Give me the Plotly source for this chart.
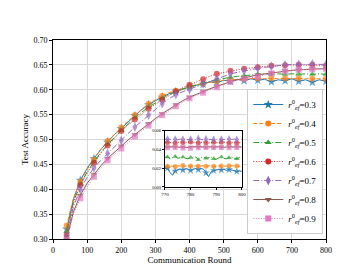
import plotly.graph_objects as go

# ---------------- data ----------------
rounds = [0, 20, 40, 60, 80, 100, 120, 140, 160, 180, 200, 220, 240, 260, 280, 300,
          320, 340, 360, 380, 400, 420, 440, 460, 480, 500, 520, 540, 560, 580, 600,
          620, 640, 660, 680, 700, 720, 740, 760, 780, 800]

acc_03 = [0.100, 0.220, 0.320, 0.380, 0.418, 0.442, 0.462, 0.480, 0.495, 0.510, 0.522,
          0.536, 0.548, 0.560, 0.570, 0.578, 0.585, 0.592, 0.596, 0.602, 0.605, 0.609,
          0.611, 0.616, 0.614, 0.619, 0.617, 0.621, 0.618, 0.622, 0.619, 0.621, 0.616,
          0.620, 0.618, 0.622, 0.617, 0.620, 0.615, 0.620, 0.617]
acc_04 = [0.110, 0.235, 0.327, 0.383, 0.415, 0.440, 0.460, 0.480, 0.497, 0.511, 0.524,
          0.537, 0.549, 0.561, 0.572, 0.580, 0.588, 0.594, 0.598, 0.603, 0.607, 0.610,
          0.612, 0.615, 0.617, 0.619, 0.620, 0.621, 0.622, 0.622, 0.623, 0.622, 0.623,
          0.622, 0.623, 0.622, 0.623, 0.622, 0.622, 0.623, 0.622]
acc_05 = [0.100, 0.220, 0.315, 0.375, 0.410, 0.435, 0.455, 0.474, 0.490, 0.505, 0.518,
          0.531, 0.543, 0.555, 0.565, 0.574, 0.582, 0.590, 0.596, 0.601, 0.606, 0.610,
          0.614, 0.617, 0.620, 0.623, 0.625, 0.627, 0.628, 0.630, 0.631, 0.632, 0.631,
          0.632, 0.631, 0.632, 0.631, 0.632, 0.631, 0.632, 0.631]
acc_06 = [0.100, 0.210, 0.308, 0.372, 0.408, 0.433, 0.453, 0.472, 0.488, 0.503, 0.517,
          0.529, 0.540, 0.551, 0.562, 0.571, 0.580, 0.589, 0.597, 0.604, 0.610, 0.616,
          0.621, 0.627, 0.632, 0.635, 0.638, 0.640, 0.642, 0.644, 0.645, 0.647, 0.648,
          0.648, 0.649, 0.650, 0.650, 0.650, 0.650, 0.649, 0.648]
acc_07 = [0.090, 0.200, 0.305, 0.365, 0.400, 0.424, 0.443, 0.458, 0.472, 0.485, 0.498,
          0.512, 0.525, 0.537, 0.549, 0.561, 0.572, 0.582, 0.590, 0.596, 0.601, 0.607,
          0.612, 0.617, 0.622, 0.627, 0.632, 0.635, 0.638, 0.641, 0.643, 0.645, 0.647,
          0.649, 0.650, 0.651, 0.651, 0.652, 0.652, 0.651, 0.651]
acc_08 = [0.080, 0.190, 0.300, 0.355, 0.388, 0.412, 0.430, 0.447, 0.462, 0.475, 0.487,
          0.499, 0.510, 0.521, 0.532, 0.542, 0.552, 0.561, 0.570, 0.578, 0.585, 0.591,
          0.597, 0.602, 0.607, 0.612, 0.616, 0.620, 0.624, 0.627, 0.630, 0.632, 0.634,
          0.636, 0.638, 0.639, 0.640, 0.641, 0.642, 0.642, 0.642]
acc_09 = [0.080, 0.185, 0.298, 0.350, 0.382, 0.405, 0.425, 0.442, 0.458, 0.470, 0.482,
          0.494, 0.506, 0.517, 0.528, 0.539, 0.549, 0.558, 0.567, 0.575, 0.583, 0.589,
          0.594, 0.600, 0.605, 0.611, 0.616, 0.619, 0.622, 0.624, 0.626, 0.630, 0.633,
          0.635, 0.637, 0.639, 0.640, 0.641, 0.641, 0.642, 0.642]

# zoomed-in window (rounds 770-800)
zoom_rounds = list(range(770, 801))
zoom_03 = [0.6195, 0.6200, 0.6150, 0.6125, 0.6170, 0.6185, 0.6190, 0.6180, 0.6195, 0.6190,
           0.6175, 0.6190, 0.6195, 0.6185, 0.6195, 0.6190, 0.6150, 0.6110, 0.6160, 0.6175,
           0.6180, 0.6185, 0.6180, 0.6190, 0.6175, 0.6185, 0.6180, 0.6170, 0.6165, 0.6170,
           0.6165]
zoom_04 = [0.6215, 0.6220, 0.6225, 0.6220, 0.6218, 0.6225, 0.6222, 0.6228, 0.6220, 0.6225,
           0.6222, 0.6218, 0.6225, 0.6220, 0.6223, 0.6226, 0.6220, 0.6224, 0.6228, 0.6221,
           0.6218, 0.6224, 0.6222, 0.6226, 0.6220, 0.6225, 0.6221, 0.6224, 0.6222, 0.6223,
           0.6222]
zoom_05 = [0.6315, 0.6320, 0.6300, 0.6310, 0.6325, 0.6305, 0.6315, 0.6320, 0.6305, 0.6300,
           0.6315, 0.6310, 0.6320, 0.6290, 0.6315, 0.6320, 0.6305, 0.6310, 0.6318, 0.6300,
           0.6295, 0.6310, 0.6320, 0.6305, 0.6300, 0.6312, 0.6318, 0.6305, 0.6300, 0.6312,
           0.6315]
zoom_06 = [0.6480, 0.6475, 0.6478, 0.6472, 0.6470, 0.6476, 0.6480, 0.6474, 0.6470, 0.6477,
           0.6479, 0.6473, 0.6475, 0.6470, 0.6476, 0.6480, 0.6472, 0.6468, 0.6475, 0.6478,
           0.6473, 0.6470, 0.6476, 0.6479, 0.6472, 0.6468, 0.6475, 0.6478, 0.6470, 0.6473,
           0.6476]
zoom_07 = [0.6508, 0.6510, 0.6505, 0.6512, 0.6508, 0.6503, 0.6510, 0.6507, 0.6512, 0.6505,
           0.6508, 0.6510, 0.6506, 0.6514, 0.6508, 0.6504, 0.6510, 0.6507, 0.6511, 0.6505,
           0.6508, 0.6512, 0.6506, 0.6509, 0.6504, 0.6510, 0.6507, 0.6511, 0.6505, 0.6509,
           0.6508]
zoom_08 = [0.6425, 0.6428, 0.6424, 0.6427, 0.6430, 0.6425, 0.6423, 0.6428, 0.6426, 0.6422,
           0.6427, 0.6429, 0.6424, 0.6426, 0.6430, 0.6425, 0.6423, 0.6427, 0.6428, 0.6424,
           0.6426, 0.6429, 0.6425, 0.6423, 0.6427, 0.6428, 0.6424, 0.6426, 0.6429, 0.6425,
           0.6427]
zoom_09 = [0.6420, 0.6418, 0.6422, 0.6415, 0.6420, 0.6424, 0.6418, 0.6416, 0.6421, 0.6419,
           0.6414, 0.6420, 0.6423, 0.6418, 0.6421, 0.6417, 0.6422, 0.6419, 0.6415, 0.6421,
           0.6423, 0.6418, 0.6420, 0.6416, 0.6421, 0.6419, 0.6422, 0.6417, 0.6420, 0.6418,
           0.6421]

ratios = ["0.3", "0.4", "0.5", "0.6", "0.7", "0.8", "0.9"]
x_ticks = [0, 100, 200, 300, 400, 500, 600, 700, 800]
y_ticks = [0.30, 0.35, 0.40, 0.45, 0.50, 0.55, 0.60, 0.65, 0.70]
inset_x_ticks = [770, 780, 790, 800]
inset_y_ticks = [0.60, 0.62, 0.64, 0.66]

# ---------------- style ----------------
main_series = [acc_03, acc_04, acc_05, acc_06, acc_07, acc_08, acc_09]
zoom_series = [zoom_03, zoom_04, zoom_05, zoom_06, zoom_07, zoom_08, zoom_09]
colors = ["#1f77b4", "#ff7f0e", "#2ca02c", "#d62728", "#9467bd", "#8c564b", "#e377c2"]
symbols = ["star", "circle", "triangle-up", "circle", "diamond-tall", "triangle-down", "square"]
dashes = ["solid", "4px,2px", "6px,2px,1px,2px", "1px,1.6px",
          "6px,2px,1px,2px", "solid", "1px,1.6px"]
msizes = [7, 6, 6, 6, 7, 6, 6]
zsizes = [6, 5, 5, 5, 6, 5, 5]

FONT = "Liberation Serif"
BLACK = "#000000"

fig = go.Figure()

for s, c, sym, d, ms in zip(main_series, colors, symbols, dashes, msizes):
    sizes = [ms if (r % 40 == 0) else 0 for r in rounds]
    fig.add_trace(go.Scatter(
        x=rounds, y=s, mode="lines+markers",
        line=dict(color=c, width=1, dash=d),
        marker=dict(symbol=sym, size=sizes, color=c, line=dict(width=0)),
        showlegend=False, xaxis="x", yaxis="y"))

for s, c, sym, d, ms in zip(zoom_series, colors, symbols, dashes, zsizes):
    sizes = [ms if ((r - 771) % 3 == 0) else 0 for r in zoom_rounds]
    fig.add_trace(go.Scatter(
        x=zoom_rounds, y=s, mode="lines+markers",
        line=dict(color=c, width=1, dash=d),
        marker=dict(symbol=sym, size=sizes, color=c, line=dict(width=0)),
        showlegend=False, xaxis="x2", yaxis="y2"))

# legend entries
for lab, c, sym, d, ms in zip(ratios, colors, symbols, dashes, msizes):
    fig.add_trace(go.Scatter(
        x=[None], y=[None], mode="lines+markers",
        name="<i>r</i><sup>0</sup><sub><i>ef</i></sub>=" + lab,
        line=dict(color=c, width=1, dash=d),
        marker=dict(symbol=sym, size=ms, color=c, line=dict(width=0)),
        xaxis="x", yaxis="y"))

axis_common = dict(showline=True, linecolor=BLACK, linewidth=1, mirror=True,
                   ticks="outside", tickcolor=BLACK, zeroline=False)

fig.update_layout(
    width=355, height=267,
    margin=dict(l=45, r=37, t=32, b=29),
    paper_bgcolor="white", plot_bgcolor="white",
    font=dict(family=FONT, size=8, color=BLACK),
    xaxis=dict(range=[0, 800], tickvals=x_ticks, ticktext=[str(v) for v in x_ticks],
               showgrid=True, gridcolor="#d8d8d8", gridwidth=1, ticklen=3,
               tickfont=dict(family=FONT, size=8, color=BLACK),
               title=dict(text="Communication Round",
                          font=dict(family=FONT, size=9, color=BLACK), standoff=2),
               **axis_common),
    yaxis=dict(range=[0.30, 0.70], tickvals=y_ticks,
               ticktext=["%.2f" % v for v in y_ticks], showgrid=True,
               gridcolor="#d8d8d8", gridwidth=1, ticklen=3,
               tickfont=dict(family=FONT, size=8, color=BLACK),
               title=dict(text="Test Accuracy",
                          font=dict(family=FONT, size=9, color=BLACK), standoff=3),
               **axis_common),
    xaxis2=dict(domain=[0.410, 0.692], anchor="y2", range=[770, 800],
                tickvals=inset_x_ticks, ticktext=[str(v) for v in inset_x_ticks],
                showgrid=False, ticklen=2,
                tickfont=dict(family=FONT, size=5, color=BLACK), **axis_common),
    yaxis2=dict(domain=[0.262, 0.544], anchor="x2", range=[0.60, 0.66],
                tickvals=inset_y_ticks, ticktext=["%.2f" % v for v in inset_y_ticks],
                showgrid=False, ticklen=2,
                tickfont=dict(family=FONT, size=5, color=BLACK), **axis_common),
    legend=dict(x=0.99, y=0.025, xanchor="right", yanchor="bottom",
                bgcolor="rgba(255,255,255,0.9)", bordercolor="#cccccc", borderwidth=1,
                font=dict(family=FONT, size=9, color=BLACK), itemwidth=30,
                tracegroupgap=0),
)

fig.write_html("out.html")
